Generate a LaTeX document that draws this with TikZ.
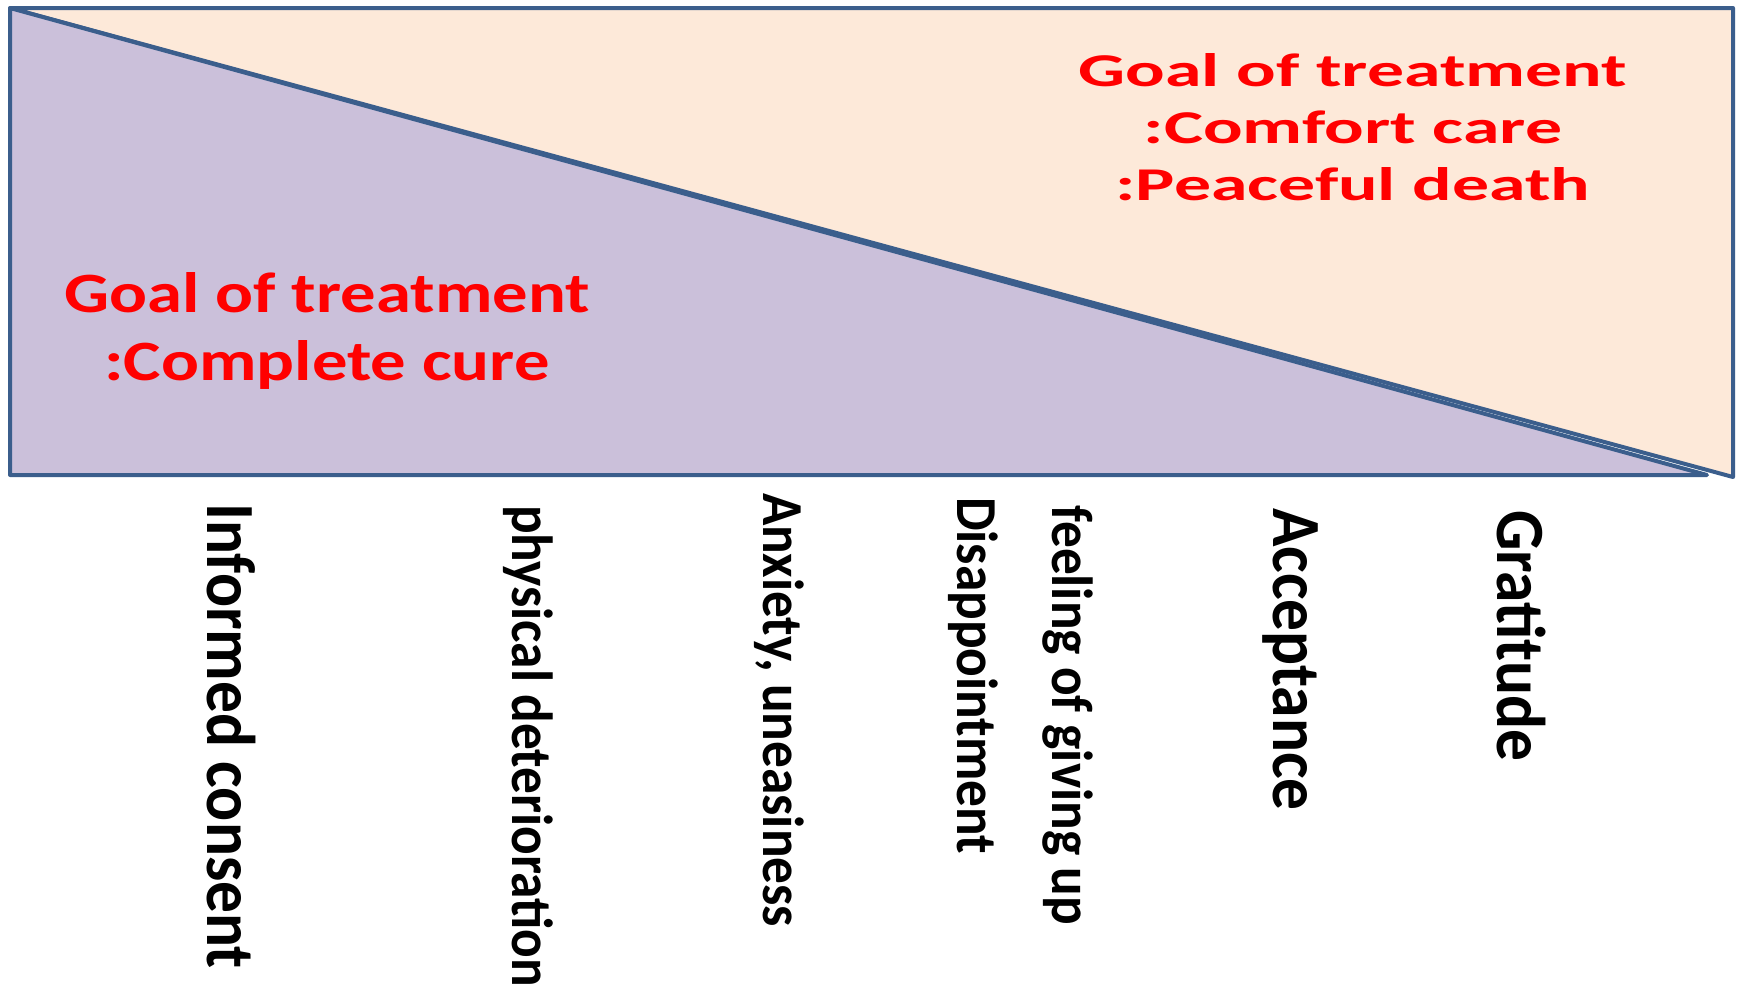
\documentclass[tikz,border=0pt]{standalone}
\usepackage{fontspec}
\setmainfont{Carlito}
\newfontfamily\labelfont{Carlito}[FakeStretch=0.92]
\newfontfamily\comfortfont{Carlito}[FakeStretch=1.57]
\newfontfamily\curefont{Carlito}[FakeStretch=1.24]
\usepackage{xcolor}
\definecolor{edgeblue}{RGB}{59,94,140}
\definecolor{curefill}{RGB}{203,192,218}
\definecolor{carefill}{RGB}{253,233,217}
\definecolor{goalred}{RGB}{255,0,0}
\usetikzlibrary{positioning}

\begin{document}
\begin{tikzpicture}[
    x=1pt, y=-1pt,
    edge/.style={draw=edgeblue, line width=4pt, line join=round},
    goal/.style={text=goalred, align=center, inner sep=0pt, anchor=base},
    stage/.style={rotate=-90, anchor=base west, inner sep=0pt, font=\labelfont\bfseries\fontsize{58}{70}\selectfont},
    stagebig/.style={stage, font=\labelfont\bfseries\fontsize{69}{80}\selectfont}
]
    \useasboundingbox (0,0) rectangle (1739,989);
    \coordinate (tl) at (10,8);
    \coordinate (tr) at (1733,8);
    \coordinate (br) at (1733,477);
    \coordinate (bl) at (10,475);
    \coordinate (tip) at (1707,475);

    % comfort care side
    \path[edge, fill=carefill] (tl) -- (tr) -- (br) -- cycle;
    % complete cure side
    \path[edge, fill=curefill] (tl) -- (bl) -- (tip) -- cycle;

    \node[goal, font=\comfortfont\bfseries\fontsize{47}{57}\selectfont] (comfort) at (1353,200) {Goal of treatment\\:Comfort care\\:Peaceful death};
    \node[goal, font=\curefont\bfseries\fontsize{57}{68}\selectfont] (cure) at (327,380) {Goal of treatment\\:Complete cure};

    \node[stagebig] (consent) at (207,503) {Informed consent};
    \node[stage] (physical) at (512,505) {physical deterioration};
    \node[stage] (anxiety) at (763,493) {Anxiety, uneasiness};
    \node[stage] (disappoint) at (957,497) {Disappointment};
    \node[stage] (givingup) at (1052,505) {feeling of giving up};
    \node[stagebig] (accept) at (1273,508) {Acceptance};
    \node[stagebig] (gratitude) at (1497,510) {Gratitude};
\end{tikzpicture}
\end{document}
